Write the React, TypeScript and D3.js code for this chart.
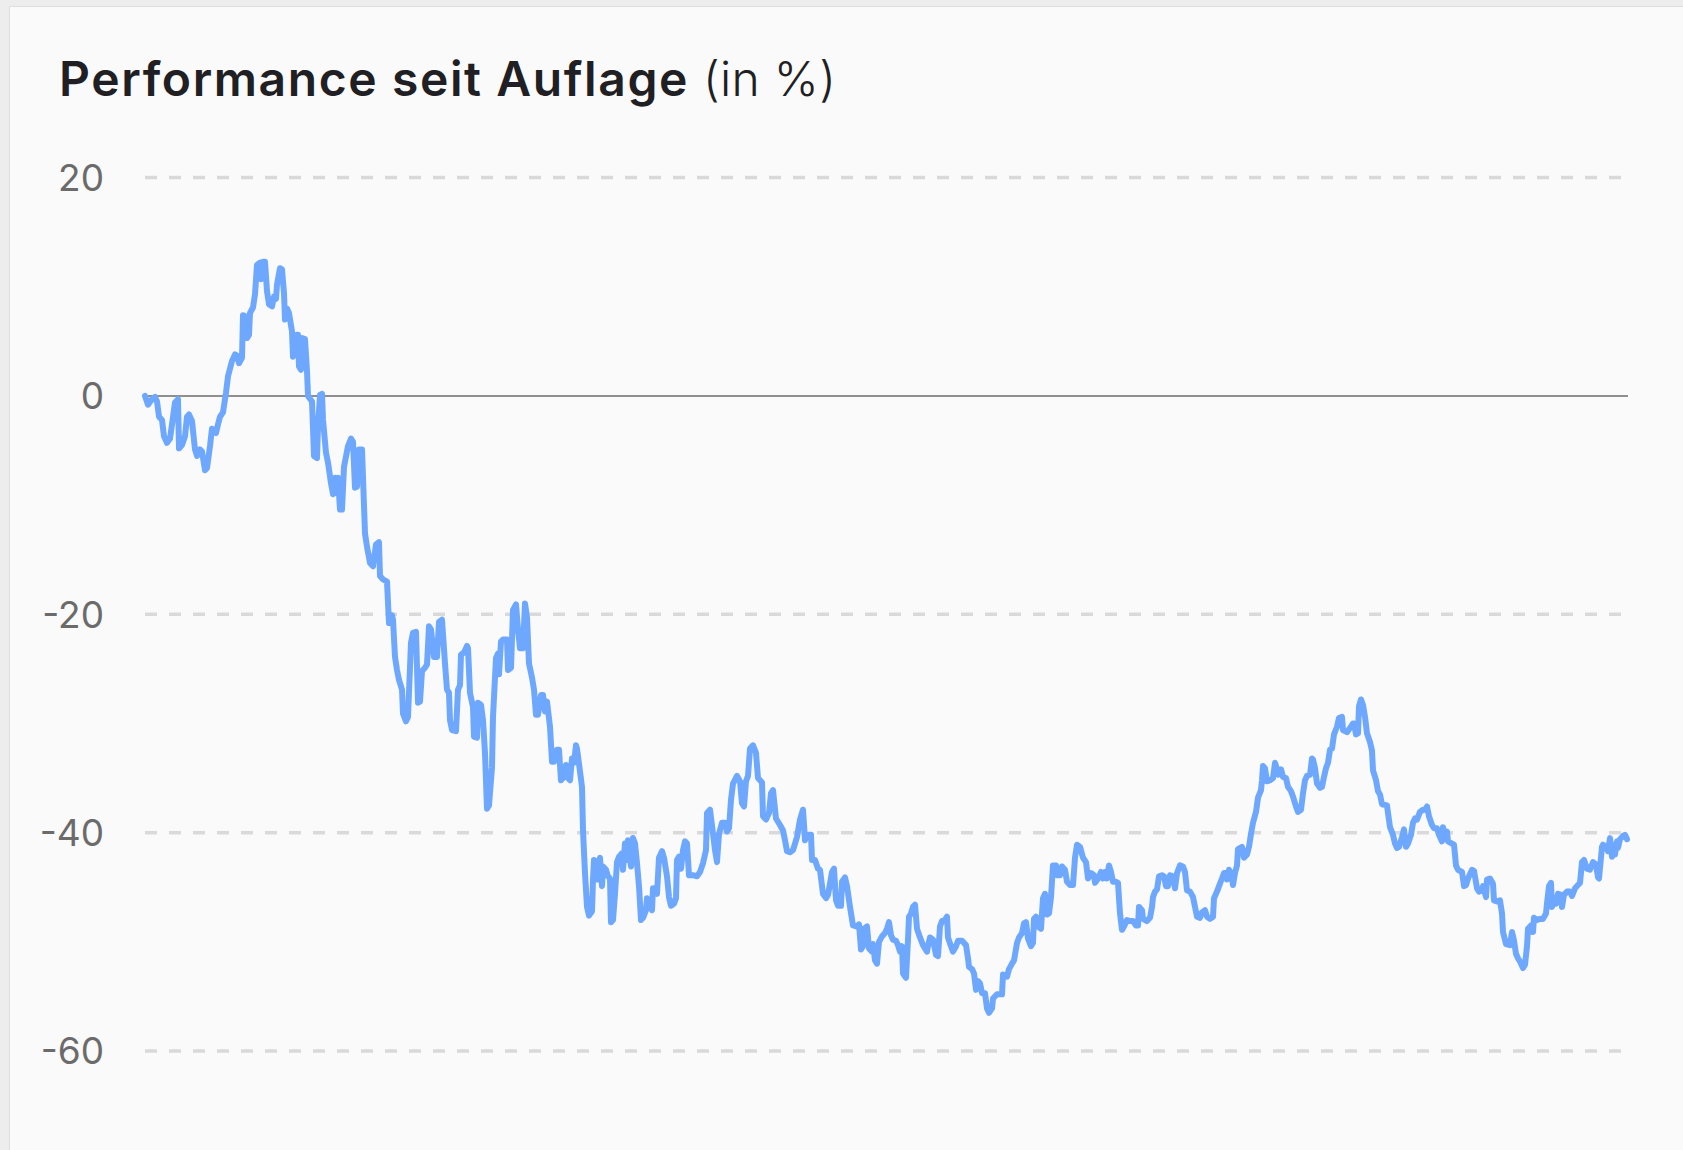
import React from 'react';
import * as d3 from 'd3';

// Performance seit Auflage, in % (Handelstage seit Auflage / Wertentwicklung)
const days: number[] = [
  0, 3, 7, 10, 12, 14, 17, 19, 22, 25, 27, 30, 33, 34, 37, 40, 42, 44, 47, 50,
  52, 55, 57, 60, 62, 65, 67, 71, 73, 75, 78, 81, 83, 87, 90, 92, 94, 97, 98, 100,
  102, 104, 105, 108, 110, 112, 115, 116, 118, 120, 122, 124, 127, 129, 131, 132, 135, 137, 139, 140,
  142, 144, 147, 148, 150, 152, 153, 154, 156, 157, 160, 162, 163, 167, 169, 172, 173, 175, 177, 178,
  181, 183, 186, 188, 190, 192, 193, 195, 197, 199, 203, 206, 208, 210, 212, 214, 217, 220, 222, 225,
  228, 231, 234, 235, 238, 242, 244, 247, 248, 250, 252, 254, 257, 258, 261, 263, 266, 268, 271, 273,
  275, 277, 280, 282, 284, 286, 289, 292, 294, 297, 300, 302, 304, 305, 307, 311, 313, 315, 316, 319,
  322, 323, 325, 328, 329, 332, 333, 336, 338, 340, 342, 344, 347, 348, 351, 353, 354, 356, 358, 362,
  363, 366, 368, 371, 373, 375, 378, 380, 382, 384, 387, 389, 391, 393, 396, 398, 400, 402, 405, 407,
  409, 412, 414, 416, 418, 421, 423, 425, 427, 429, 431, 432, 437, 438, 440, 442, 444, 447, 448, 449,
  451, 452, 453, 455, 457, 458, 461, 463, 465, 466, 468, 470, 472, 474, 477, 478, 480, 482, 483, 486,
  488, 490, 492, 494, 496, 498, 501, 502, 505, 507, 508, 512, 514, 517, 519, 522, 524, 526, 529, 531,
  532, 534, 536, 538, 540, 542, 544, 548, 552, 555, 558, 561, 562, 565, 568, 570, 572, 574, 577, 580,
  582, 584, 586, 588, 592, 595, 597, 599, 601, 603, 605, 608, 611, 613, 617, 618, 621, 624, 626, 628,
  631, 635, 638, 640, 642, 645, 648, 652, 655, 658, 660, 662, 666, 667, 670, 673, 675, 678, 681, 683,
  687, 689, 691, 693, 696, 697, 700, 702, 705, 708, 712, 714, 716, 718, 719, 722, 724, 727, 728, 730,
  732, 734, 737, 740, 742, 744, 746, 748, 751, 753, 755, 757, 758, 761, 763, 764, 766, 768, 770, 772,
  775, 778, 782, 783, 785, 788, 791, 793, 795, 797, 799, 802, 803, 806, 808, 811, 813, 817, 821, 823,
  824, 827, 829, 831, 833, 835, 837, 840, 842, 844, 847, 848, 852, 854, 857, 858, 860, 862, 864, 867,
  869, 872, 874, 877, 879, 881, 883, 886, 888, 889, 891, 893, 896, 898, 900, 902, 904, 906, 908, 911,
  912, 915, 917, 920, 922, 925, 928, 930, 932, 935, 938, 941, 943, 946, 949, 950, 953, 956, 958, 960,
  962, 964, 966, 968, 971, 973, 975, 977, 979, 982, 985, 988, 991, 993, 994, 997, 998, 1002, 1005, 1007,
  1008, 1010, 1012, 1014, 1017, 1019, 1021, 1023, 1025, 1028, 1030, 1032, 1035, 1038, 1040, 1042, 1045, 1048, 1050, 1052,
  1055, 1057, 1060, 1062, 1065, 1068, 1069, 1072, 1074, 1077, 1079, 1081, 1082, 1084, 1086, 1088, 1090, 1092, 1093, 1097,
  1099, 1102, 1104, 1106, 1108, 1111, 1113, 1116, 1117, 1118, 1120, 1122, 1125, 1128, 1130, 1132, 1133, 1136, 1138, 1141,
  1143, 1146, 1148, 1151, 1153, 1156, 1158, 1160, 1162, 1165, 1167, 1168, 1170, 1172, 1175, 1177, 1179, 1181, 1183, 1185,
  1187, 1189, 1192, 1194, 1197, 1198, 1202, 1205, 1208, 1209, 1211, 1213, 1214, 1216, 1218, 1220, 1222, 1225, 1227, 1228,
  1231, 1233, 1235, 1237, 1242, 1243, 1245, 1248, 1250, 1252, 1254, 1257, 1259, 1261, 1263, 1266, 1268, 1270, 1272, 1275,
  1278, 1280, 1282, 1284, 1287, 1289, 1292, 1294, 1297, 1298, 1300, 1302, 1303, 1307, 1309, 1311, 1313, 1317, 1319, 1321,
  1323, 1327, 1329, 1332, 1334, 1337, 1338, 1341, 1342, 1345, 1348, 1349, 1352, 1355, 1357, 1358, 1361, 1365, 1367, 1369,
  1371, 1373, 1375, 1378, 1380, 1382, 1383, 1386, 1388, 1389, 1392, 1395, 1398, 1401, 1402, 1404, 1406, 1407, 1409, 1411,
  1413, 1416, 1417, 1419, 1422, 1425, 1427, 1430, 1433, 1435, 1437, 1439, 1442, 1445, 1448, 1451, 1453, 1454, 1457, 1458,
  1461, 1463, 1465, 1467, 1468, 1470, 1472, 1473, 1475, 1478, 1480, 1482,
];

const perf: number[] = [
  0.0, -0.8, -0.3, -0.1, -0.5, -1.9, -2.2, -3.7, -4.3, -3.9, -2.6, -0.6, -0.3, -4.8, -4.5, -3.7, -1.9, -1.7, -2.3, -4.9,
  -5.5, -4.9, -5.1, -6.8, -6.6, -4.6, -3.0, -3.4, -2.6, -1.9, -1.5, 0.3, 1.8, 3.2, 3.8, 3.7, 3.0, 3.5, 7.4, 7.3,
  5.3, 5.6, 7.6, 8.1, 9.3, 12.0, 12.2, 10.7, 12.3, 12.3, 9.6, 8.4, 8.2, 9.1, 8.9, 10.2, 11.7, 11.6, 9.4, 7.0,
  8.0, 7.6, 5.9, 3.6, 3.9, 5.6, 5.6, 2.7, 2.4, 5.3, 5.2, 2.3, 0.0, -0.5, -5.5, -5.7, -2.8, 0.1, 0.2, -2.2,
  -5.2, -6.1, -8.0, -9.0, -7.5, -8.9, -7.5, -10.4, -10.4, -6.5, -4.6, -3.9, -4.2, -8.4, -8.3, -4.9, -4.9, -12.6, -13.8, -15.3,
  -15.6, -13.6, -13.4, -16.5, -16.8, -17.0, -20.8, -20.1, -20.5, -23.9, -25.1, -26.0, -26.9, -29.1, -29.8, -29.4, -22.6, -21.7, -21.6, -28.1,
  -28.0, -25.2, -24.9, -24.6, -21.1, -21.4, -23.9, -23.9, -20.7, -20.5, -24.5, -26.9, -27.2, -29.7, -30.6, -30.7, -26.9, -26.5, -23.7, -23.5,
  -22.9, -23.1, -27.2, -28.5, -31.2, -31.3, -28.1, -28.3, -29.7, -32.7, -37.8, -37.5, -34.0, -29.4, -24.0, -23.6, -25.5, -22.5, -22.3, -22.3,
  -25.1, -24.9, -19.6, -19.1, -21.4, -23.1, -23.1, -19.0, -20.3, -24.5, -25.8, -26.9, -29.2, -29.2, -27.4, -27.4, -28.9, -28.0, -30.3, -33.5,
  -33.5, -32.4, -32.4, -35.2, -35.0, -33.8, -35.0, -35.2, -33.2, -33.6, -32.0, -32.3, -35.8, -39.8, -43.7, -46.8, -47.6, -47.2, -44.3, -42.5,
  -42.7, -44.3, -42.8, -42.3, -44.9, -43.1, -43.4, -44.0, -44.2, -48.2, -48.0, -45.6, -42.7, -42.2, -41.9, -43.4, -41.0, -42.5, -40.7, -43.1,
  -40.5, -41.0, -42.8, -44.9, -48.0, -47.8, -47.1, -46.0, -46.8, -47.1, -45.1, -45.6, -42.3, -41.7, -42.3, -44.0, -45.9, -46.7, -46.5, -46.0,
  -42.5, -42.2, -43.3, -41.6, -40.8, -41.0, -43.9, -43.9, -44.0, -43.6, -42.8, -41.6, -38.2, -37.9, -40.1, -41.6, -42.7, -40.1, -39.1, -39.1,
  -39.9, -39.6, -37.0, -35.5, -34.8, -35.3, -37.3, -37.6, -35.3, -34.8, -32.3, -32.0, -32.7, -35.0, -35.4, -38.5, -38.8, -38.2, -36.4, -36.1,
  -38.7, -39.3, -39.8, -40.7, -41.7, -41.8, -41.6, -40.4, -38.8, -37.9, -40.7, -40.2, -40.2, -42.5, -42.5, -43.3, -43.4, -45.6, -46.0, -45.7,
  -43.6, -43.3, -46.2, -46.7, -46.7, -44.5, -44.1, -44.9, -46.8, -48.5, -48.6, -48.4, -50.7, -50.4, -48.8, -48.6, -50.6, -50.9, -50.2, -51.7,
  -52.0, -50.0, -49.5, -49.2, -48.8, -48.2, -49.4, -49.8, -49.9, -50.3, -50.9, -50.4, -52.9, -53.3, -49.8, -47.7, -47.4, -46.8, -46.6, -48.8,
  -49.6, -50.3, -50.9, -50.4, -49.6, -49.8, -51.2, -51.3, -48.6, -48.1, -48.1, -47.7, -49.6, -50.4, -50.9, -50.4, -49.9, -49.9, -50.3, -51.5,
  -52.3, -52.5, -52.9, -54.4, -53.6, -53.8, -54.7, -54.7, -56.1, -56.5, -56.1, -55.2, -54.8, -54.8, -54.8, -53.0, -53.2, -53.2, -52.5, -52.0,
  -51.7, -50.1, -49.6, -49.2, -48.3, -48.2, -49.7, -50.4, -50.1, -47.9, -47.7, -48.6, -48.8, -46.0, -45.6, -47.5, -47.4, -45.9, -43.0, -43.0,
  -43.9, -43.9, -43.1, -43.4, -44.5, -44.8, -44.8, -42.3, -41.1, -41.3, -42.3, -42.7, -44.2, -43.7, -43.9, -44.6, -44.2, -43.6, -44.2, -43.6,
  -44.2, -43.0, -43.6, -44.5, -44.5, -44.6, -47.4, -48.9, -48.6, -48.0, -48.1, -48.1, -48.5, -48.5, -46.8, -47.1, -47.9, -48.1, -47.8, -46.8,
  -45.9, -45.4, -45.2, -44.0, -43.9, -44.0, -44.9, -44.9, -43.9, -44.0, -45.1, -43.7, -43.0, -43.1, -43.6, -45.3, -45.4, -45.9, -46.8, -47.7,
  -47.8, -47.3, -47.1, -47.7, -47.9, -47.7, -46.0, -45.4, -44.9, -44.2, -43.7, -43.7, -44.3, -43.4, -43.7, -44.8, -43.7, -43.0, -41.5, -41.3,
  -42.3, -42.0, -41.3, -40.1, -39.1, -38.1, -36.8, -36.1, -35.2, -33.9, -34.1, -35.3, -35.2, -35.0, -33.6, -34.2, -34.7, -34.2, -34.9, -35.0,
  -35.8, -36.2, -36.7, -37.6, -38.1, -37.9, -36.4, -35.2, -34.8, -34.7, -33.2, -33.3, -34.1, -35.5, -35.9, -35.8, -34.9, -34.1, -33.6, -32.4,
  -32.3, -31.0, -30.3, -29.5, -29.4, -30.6, -30.8, -30.4, -30.0, -30.0, -31.0, -30.9, -28.4, -27.8, -28.3, -29.4, -30.9, -31.7, -32.5, -34.3,
  -35.2, -36.2, -36.5, -37.4, -37.5, -38.2, -39.5, -40.2, -41.0, -41.4, -41.3, -40.4, -39.7, -41.3, -41.0, -40.2, -39.1, -38.7, -38.8, -38.1,
  -37.9, -37.9, -37.6, -38.5, -39.3, -39.6, -39.6, -40.2, -40.8, -39.5, -40.4, -39.9, -40.8, -41.0, -41.1, -43.0, -43.4, -43.6, -44.9, -44.8,
  -44.2, -43.4, -43.5, -45.1, -45.4, -45.3, -44.9, -45.9, -44.3, -44.2, -44.7, -46.2, -46.3, -46.2, -47.4, -49.1, -50.2, -50.3, -49.1, -49.9,
  -51.1, -51.5, -51.8, -52.4, -52.1, -50.4, -48.8, -48.5, -49.1, -47.8, -48.0, -47.9, -47.9, -47.4, -46.5, -44.9, -44.6, -46.8, -46.2, -46.5,
  -45.6, -45.7, -46.8, -45.7, -45.4, -45.4, -45.8, -45.1, -44.8, -44.6, -42.7, -42.5, -43.3, -43.4, -42.7, -42.9, -44.1, -44.2, -41.3, -41.1,
  -41.3, -41.7, -40.5, -42.2, -41.1, -42.0, -40.8, -41.4, -40.6, -40.3, -40.2, -40.6,
];

const yTicks: number[] = [20, 0, -20, -40, -60];
const gridTicks: number[] = [20, -20, -40, -60];

const W = 1683;
const H = 1150;

const App: React.FC = () => {
  const x = d3.scaleLinear().domain([0, 1482]).range([145, 1627]);
  const y = d3.scaleLinear().domain([-60, 20]).range([1051, 177.6]);

  const points: [number, number][] = days.map((d, i) => [d, perf[i]]);
  const line = d3.line<[number, number]>()
    .x(d => x(d[0]))
    .y(d => y(d[1]))
    .curve(d3.curveLinear);

  return (
    <div style={{ position: 'absolute', left: 0, top: 0, width: W, height: H }}>
      <svg width={W} height={H} style={{ display: 'block' }}>
        <rect x={0} y={0} width={W} height={H} fill="#ededed" />
        <rect x={9.5} y={6.5} width={W} height={H} fill="#fafafa" stroke="#dedede" strokeWidth={1} />

        <text x={59} y={96} fontFamily="Inter, 'Noto Sans', sans-serif" fontSize={48} fill="#1f1f24">
          <tspan fontWeight={600} letterSpacing={1.6}>Performance seit Auflage</tspan>
          <tspan fontWeight={300} letterSpacing={0.3} dx={14}>(in %)</tspan>
        </text>

        {gridTicks.map(t => (
          <line key={t} x1={145} x2={1621} y1={y(t)} y2={y(t)}
            stroke="#d9d9d9" strokeWidth={3.5} strokeDasharray="12 12" />
        ))}
        <line x1={144} x2={1628} y1={y(0)} y2={y(0)} stroke="#6b6b6b" strokeWidth={1.6} />

        {yTicks.map(t => (
          <text key={t} x={104} y={y(t)} dy="0.36em" textAnchor="end"
            fontFamily="Inter, 'Noto Sans', sans-serif" fontSize={37} fill="#6b6b6b">
            {t}
          </text>
        ))}

        <path d={line(points) ?? ''} fill="none" stroke="#6ea8fe" strokeWidth={6}
          strokeLinejoin="round" strokeLinecap="round" />
      </svg>
    </div>
  );
};

export default App;
